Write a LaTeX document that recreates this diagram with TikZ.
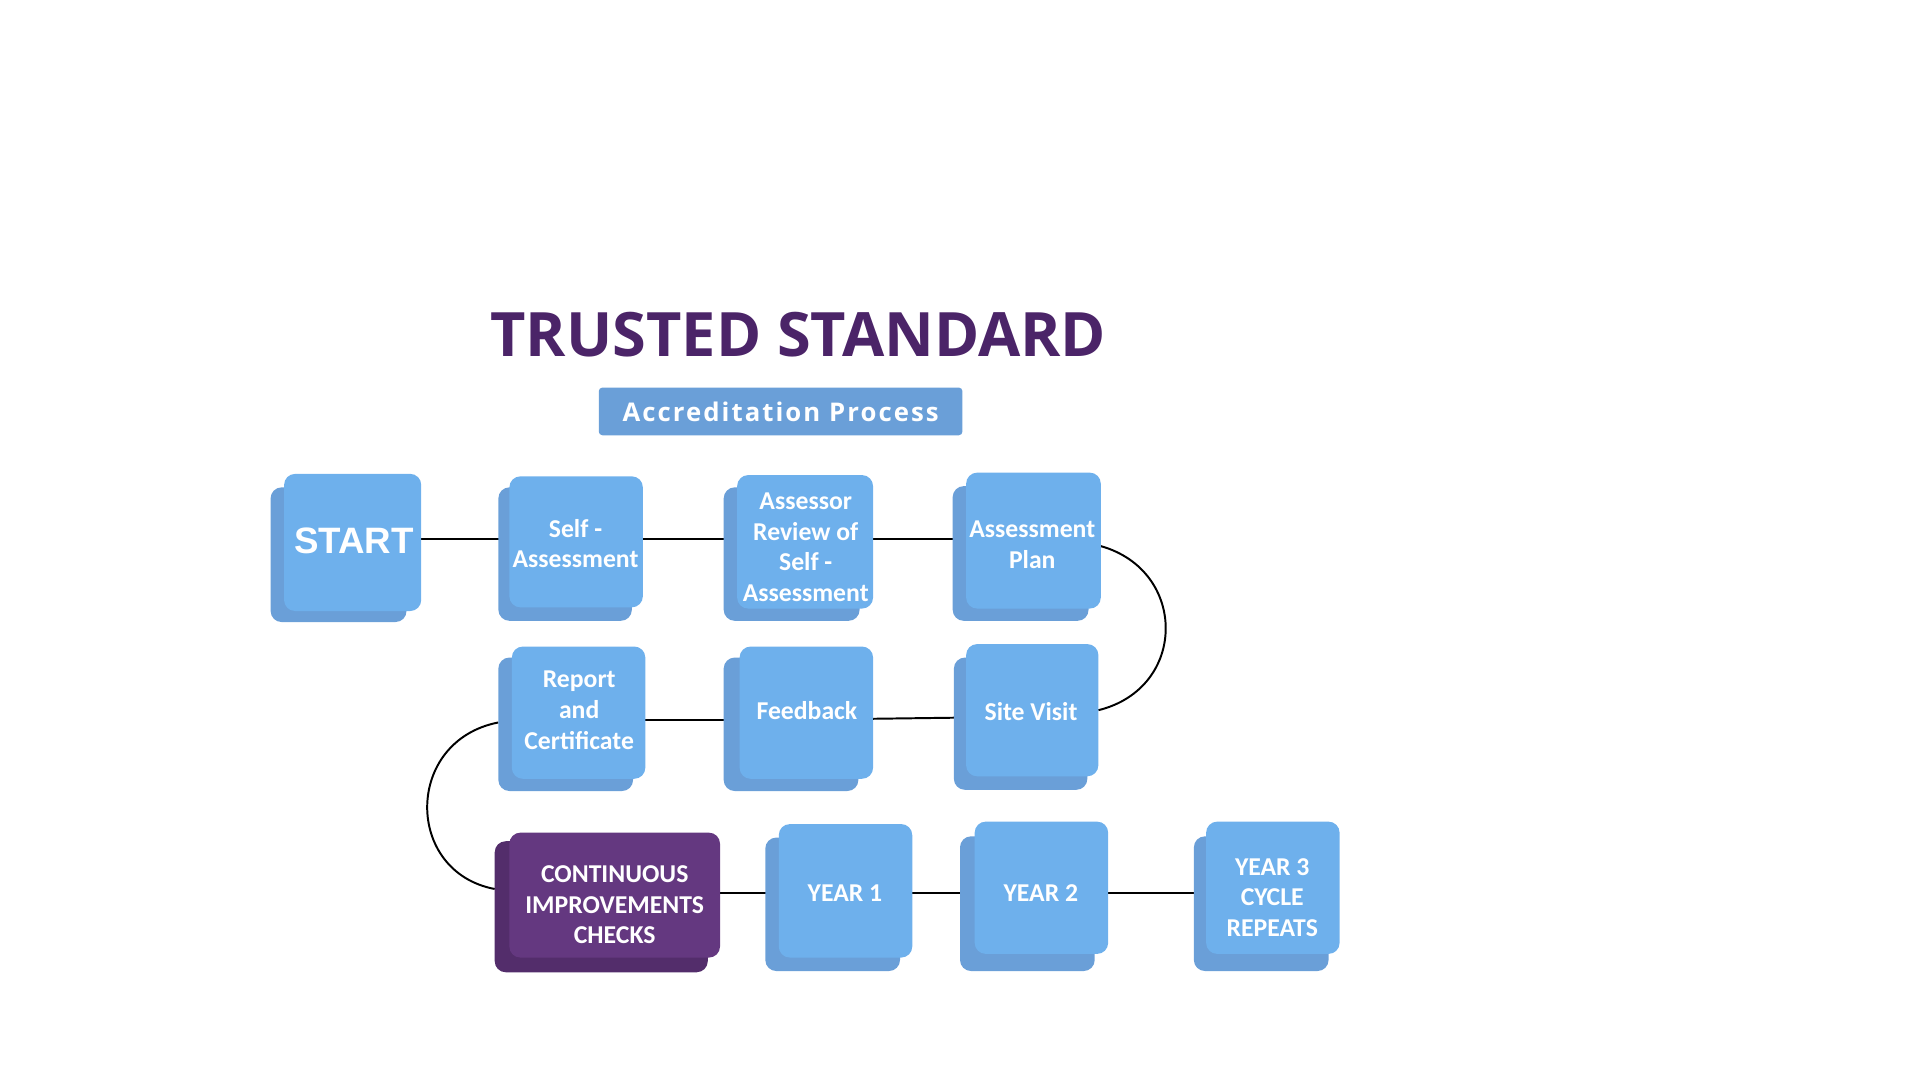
\documentclass[tikz,border=0pt]{standalone}
\usepackage{fontspec}
\setmainfont{Carlito}
\newfontfamily\arialf{Liberation Sans}
\newfontfamily\opens{Open Sans}
\definecolor{front}{HTML}{6EB0EC}
\definecolor{back}{HTML}{6A9FD8}
\definecolor{pfront}{HTML}{643880}
\definecolor{pback}{HTML}{532D6B}
\definecolor{ttl}{HTML}{4B2468}
\tikzset{
 bk/.style={fill=back, rounded corners=9pt},
 fr/.style={fill=front, rounded corners=9pt},
 lbl/.style={text=white, font=\fontsize{21}{25}\selectfont\bfseries, align=center},
 con/.style={line width=1.6pt, black}
}
\newcommand{\bx}[9]{% name, fx1,fy1,fx2,fy2, bx1,by1,bx2,by2
 \fill[bk] (#6,#7) rectangle (#8,#9);
 \fill[fr] (#2,#3) rectangle (#4,#5);
 \coordinate (#1) at ({(#2+#4)/2},{(#3+#5)/2});
}
\begin{document}
\begin{tikzpicture}[x=1pt,y=-1pt]
\useasboundingbox (0,0) rectangle (1568,882);
% connectors first
\coordinate (r1) at (340,440);
\draw[con] (340,440) -- (416,440);
\draw[con] (525,440) -- (602,440);
\draw[con] (713,440) -- (789,440);
\coordinate (apE) at (899,446);
\coordinate (svE) at (897,580);
\draw[con] (apE) .. controls (970,466) and (970,562) .. (svE);
\draw[con] (713,587) -- (789,586);
\draw[con] (527,588) -- (604,588);
\coordinate (rpW) at (407,590);
\coordinate (ciW) at (404,726);
\draw[con] (rpW) .. controls (330,605) and (330,712) .. (ciW);
\draw[con] (588,729) -- (636,729);
\draw[con] (745,729) -- (796,729);
\draw[con] (905,729) -- (985,729);
% boxes
\bx{start}{232}{387}{344}{499}{221}{398}{332}{508}
\bx{self}{416}{389}{525}{496}{407}{398}{516}{507}
\bx{assr}{602}{388}{713}{497}{591}{398}{702}{507}
\bx{plan}{789}{386}{899}{497}{778}{397}{889}{507}
\bx{site}{789}{526}{897}{634}{779}{537}{888}{645}
\bx{feed}{604}{528}{713}{636}{591}{537}{701}{646}
\bx{rep}{418}{528}{527}{636}{407}{537}{517}{646}
\fill[pback, rounded corners=9pt] (404,687) rectangle (578,794);
\fill[pfront, rounded corners=9pt] (416,680) rectangle (588,782);
\coordinate (cont) at (502,740);
\bx{y1}{636}{673}{745}{782}{625}{684}{735}{793}
\bx{y2}{796}{671}{905}{779}{784}{683}{894}{793}
\bx{y3}{985}{671}{1094}{779}{975}{683}{1085}{793}
% labels
\node[lbl, font=\arialf\fontsize{30}{34}\selectfont\bfseries] (tstart) at (289,442) {START};
\node[lbl] (tself) at (470,444) {Self -\\Assessment};
\node[lbl] (tassr) at (658,447) {Assessor\\Review of\\Self -\\Assessment};
\node[lbl] (tplan) at (843,445) {Assessment\\Plan};
\node[lbl] (tsite) at (842,581) {Site Visit};
\node[lbl] (tfeed) at (659,580) {Feedback};
\node[lbl] (trep) at (473,580) {Report\\and\\Certificate};
\node[lbl] (tcont) at (502,739) {CONTINUOUS\\IMPROVEMENTS\\CHECKS};
\node[lbl] (ty1) at (690,729) {YEAR 1};
\node[lbl] (ty2) at (850,729) {YEAR 2};
\node[lbl] (ty3) at (1039,733) {YEAR 3\\CYCLE\\REPEATS};
% title
\node[text=ttl, font=\opens\fontsize{50}{56}\selectfont\bfseries] (title) at (652,273) {TRUSTED STANDARD};
\node[fill=back, rounded corners=3pt, minimum width=297pt, minimum height=39pt, text=white, font=\opens\fontsize{21}{24}\selectfont\bfseries\addfontfeature{LetterSpace=8}] (sub) at (637.5,336) {Accreditation Process};
\end{tikzpicture}
\end{document}
